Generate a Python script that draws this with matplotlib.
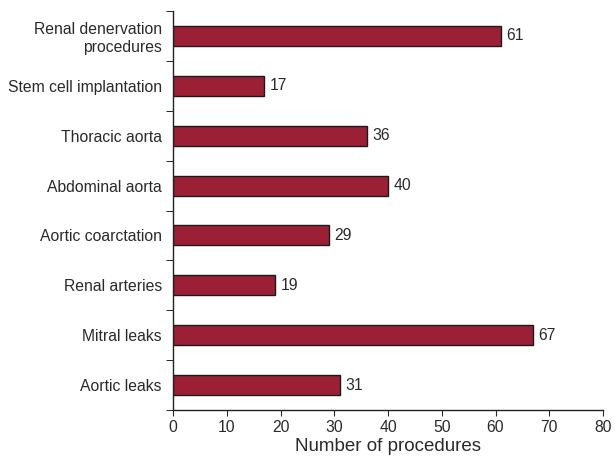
import matplotlib
matplotlib.use('Agg')
import matplotlib.pyplot as plt
import numpy as np

plt.rcParams['font.family'] = ['Liberation Sans', 'DejaVu Sans']

# procedure categories, listed bottom to top
categories = ['Aortic leaks', 'Mitral leaks', 'Renal arteries', 'Aortic coarctation',
              'Abdominal aorta', 'Thoracic aorta', 'Stem cell implantation',
              'Renal denervation\nprocedures']
counts = [31, 67, 19, 29, 40, 36, 17, 61]
x_ticks = [0, 10, 20, 30, 40, 50, 60, 70, 80]

fig = plt.figure(figsize=(6.15, 4.57), dpi=100)
ax = fig.add_axes([0.2813, 0.1028, 0.6992, 0.8731])

pos = np.arange(len(categories))
ax.barh(pos, counts, height=0.4, color='#9b2035', edgecolor='#1a1a1a', linewidth=1)

for y, v in zip(pos, counts):
    ax.text(v + 1.0, y, str(v), va='center', ha='left', fontsize=11.3, color='#2a2a2a')

ax.set_xlim(0, 80)
ax.set_ylim(-0.5, len(categories) - 0.5)
ax.set_xticks(x_ticks)
ax.tick_params(axis='x', labelsize=11.3, direction='out', length=4, colors='#2a2a2a')

# category names sit between the tick marks at the bin edges
ax.set_yticks(pos)
ax.set_yticklabels(categories, fontsize=11.3, color='#2a2a2a')
ax.tick_params(axis='y', which='major', length=0, pad=8)
ax.set_yticks(np.arange(-0.5, len(categories), 1.0), minor=True)
ax.tick_params(axis='y', which='minor', length=5, direction='out')

ax.spines['top'].set_visible(False)
ax.spines['right'].set_visible(False)
for s in ('left', 'bottom'):
    ax.spines[s].set_linewidth(1)
    ax.spines[s].set_color('#222222')

ax.set_xlabel('Number of procedures', fontsize=13.5, color='#2a2a2a', labelpad=2)

fig.savefig('out.png', dpi=100)
